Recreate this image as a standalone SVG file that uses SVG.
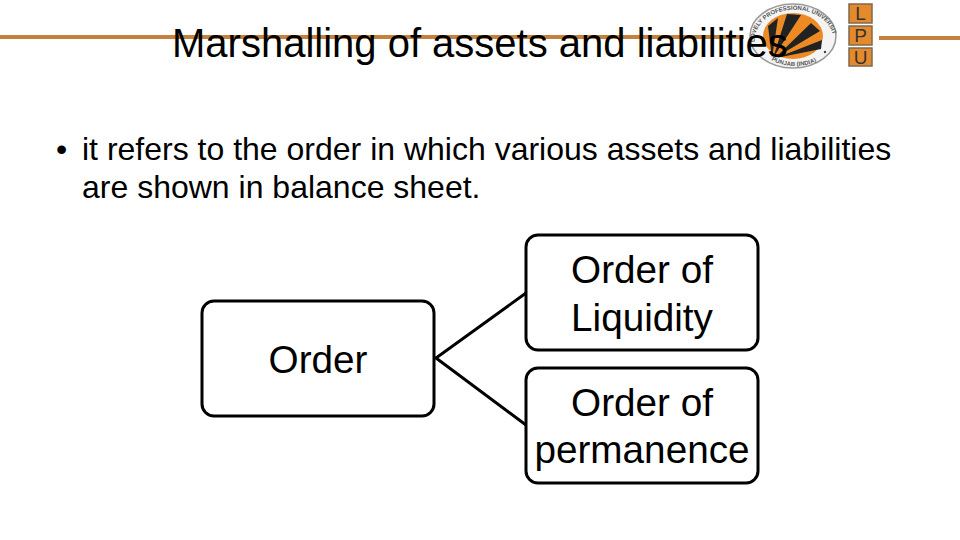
<svg xmlns="http://www.w3.org/2000/svg" width="960" height="540" viewBox="0 0 960 540">
<style>
text{font-family:"Liberation Sans",Arial,sans-serif;fill:#000}
.t{font-size:40px}.b{font-size:32px}.n{font-size:38.700px;text-anchor:middle}
.box{fill:#fff;stroke:#000;stroke-width:3}
.rule{stroke:#c4813f;stroke-width:4}
.lpu{fill:#e58a2c;stroke:#7d6a4f;stroke-width:1.500}
.l{font-size:19px;text-anchor:middle;fill:#333}
.s{font-size:6px;font-weight:bold;fill:#555}
</style>
<defs>
<path id="arcTop" d="M755 44A39 30 0 0 1 833 36"/>
<path id="arcBot" d="M768 58A39 29 0 0 0 822 58"/>
</defs>
<rect width="960" height="540" fill="#fff"/>
<g id="header-rule"><line class="rule" x1="0" y1="37" x2="744" y2="37"/><line class="rule" x1="879" y1="38" x2="960" y2="38"/></g>
<g id="logo">
<ellipse cx="793" cy="36" rx="43" ry="32" fill="#f4f4f4" stroke="#999" stroke-width="1.500"/>
<ellipse cx="793" cy="36" rx="30" ry="23" fill="#ee8a24"/>
<polygon points="772,58 768,26 778,18" fill="#222"/>
<polygon points="773,58 787,14 801,15" fill="#222"/>
<polygon points="775,58 811,23 820,31" fill="#222"/>
<polygon points="776,58 822,40 821,49" fill="#222"/>
<text class="s"><textPath href="#arcTop" startOffset="2">LOVELY  PROFESSIONAL  UNIVERSITY</textPath></text>
<text class="s"><textPath href="#arcBot" startOffset="4">PUNJAB (INDIA)</textPath></text>
<circle cx="825" cy="52" r="1.200" fill="#444"/>
<rect class="lpu" x="849" y="4" width="23" height="19"/><text class="l" x="860.500" y="20">L</text>
<rect class="lpu" x="849" y="26" width="23" height="19"/><text class="l" x="860.500" y="42">P</text>
<rect class="lpu" x="849" y="48" width="23" height="18"/><text class="l" x="860.500" y="64">U</text>
</g>
<text id="title" class="t" x="172" y="57">Marshalling of assets and liabilities</text>
<g id="body"><text class="b" x="56" y="160">•</text><text class="b" x="82" y="160">it refers to the order in which various assets and liabilities</text><text class="b" x="82" y="198">are shown in balance sheet.</text></g>
<g id="connectors" fill="none" stroke="#000" stroke-width="3"><path d="M526 293L436 358L526 425"/></g>
<g id="order"><rect class="box" x="202" y="301" width="232" height="115" rx="12"/><text class="n" x="318" y="373">Order</text></g>
<g id="liquidity"><rect class="box" x="526" y="235" width="232" height="115" rx="12"/><text class="n" x="642" y="283">Order of</text><text class="n" x="642" y="331">Liquidity</text></g>
<g id="permanence"><rect class="box" x="526" y="368" width="232" height="115" rx="12"/><text class="n" x="642" y="416">Order of</text><text class="n" x="642" y="463">permanence</text></g>
</svg>
